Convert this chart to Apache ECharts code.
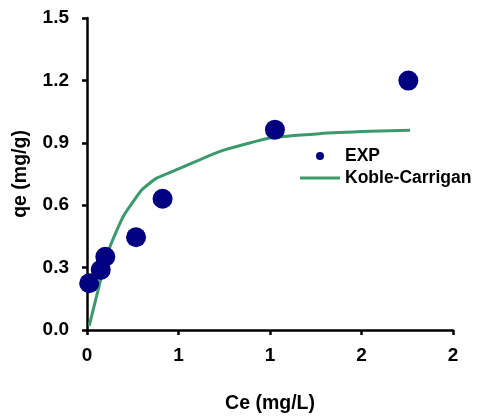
<!DOCTYPE html>
<html>
<head>
<meta charset="utf-8">
<script src="https://cdn.jsdelivr.net/npm/echarts@6/dist/echarts.min.js"></script>
<style>
  html, body { margin: 0; padding: 0; background: #fff; }
  #chart { width: 481px; height: 419px; }
</style>
</head>
<body>
<div id="chart"></div>
<script>
// Experimental adsorption data
const expCe = [0.012, 0.075, 0.100, 0.268, 0.413, 1.027, 1.756];
const expQe = [0.225, 0.289, 0.352, 0.446, 0.631, 0.963, 1.199];

// Koble-Carrigan model curve
const modelCe = [0.012, 0.07, 0.126, 0.198, 0.30, 0.38, 0.51, 0.727, 1.0, 1.27, 1.55, 1.765];
const modelQe = [0.020, 0.225, 0.401, 0.546, 0.674, 0.730, 0.778, 0.859, 0.923, 0.944, 0.955, 0.960];

const xTicks = { min: 0, max: 2, step: 0.5 };
const yTicks = { min: 0, max: 1.5, step: 0.3 };

const font = 'Arial, "Liberation Sans", sans-serif';
const chart = echarts.init(document.getElementById('chart'));

chart.setOption({
  animation: false,
  backgroundColor: '#ffffff',
  grid: { left: 87, right: 28, top: 18, bottom: 89, containLabel: false },
  legend: {
    orient: 'vertical',
    left: 295,
    top: 142,
    itemWidth: 40,
    itemHeight: 8,
    itemGap: 4,
    symbolKeepAspect: true,
    textStyle: { fontFamily: font, fontWeight: 'bold', fontSize: 17.5, color: '#000' },
    data: [
      { name: 'EXP', icon: 'circle' },
      { name: 'Koble-Carrigan', icon: 'path://M0,0 H40 V3 H0 Z' }
    ]
  },
  xAxis: {
    type: 'value',
    min: xTicks.min, max: xTicks.max, interval: xTicks.step,
    name: 'Ce (mg/L)',
    nameLocation: 'middle',
    nameGap: 64,
    nameTextStyle: { fontFamily: font, fontWeight: 'bold', fontSize: 19.5, color: '#000' },
    axisLine: { show: true, onZero: false, lineStyle: { color: '#000', width: 2.5 } },
    axisTick: { show: true, inside: false, length: 5, lineStyle: { color: '#000', width: 2.5 } },
    splitLine: { show: false },
    axisLabel: {
      fontFamily: font, fontWeight: 'bold', fontSize: 19, color: '#000', margin: 16,
      formatter: v => String(Math.round(v))
    }
  },
  yAxis: {
    type: 'value',
    min: yTicks.min, max: yTicks.max, interval: yTicks.step,
    name: 'qe (mg/g)',
    nameLocation: 'middle',
    nameGap: 56,
    nameTextStyle: { fontFamily: font, fontWeight: 'bold', fontSize: 19.5, color: '#000' },
    axisLine: { show: true, onZero: false, lineStyle: { color: '#000', width: 2.5 } },
    axisTick: { show: true, inside: false, length: 5, lineStyle: { color: '#000', width: 2.5 } },
    splitLine: { show: false },
    axisLabel: {
      fontFamily: font, fontWeight: 'bold', fontSize: 19, color: '#000', margin: 18,
      formatter: v => v.toFixed(1)
    }
  },
  series: [
    {
      name: 'Koble-Carrigan',
      type: 'line',
      data: modelCe.map((c, i) => [c, modelQe[i]]),
      symbol: 'none',
      smooth: 0.15,
      lineStyle: { color: '#3a9a6b', width: 3 },
      itemStyle: { color: '#3a9a6b' },
      z: 2
    },
    {
      name: 'EXP',
      type: 'scatter',
      data: expCe.map((c, i) => [c, expQe[i]]),
      symbol: 'circle',
      symbolSize: 20,
      itemStyle: { color: '#000080', opacity: 1 },
      z: 3
    }
  ]
});
</script>
</body>
</html>
